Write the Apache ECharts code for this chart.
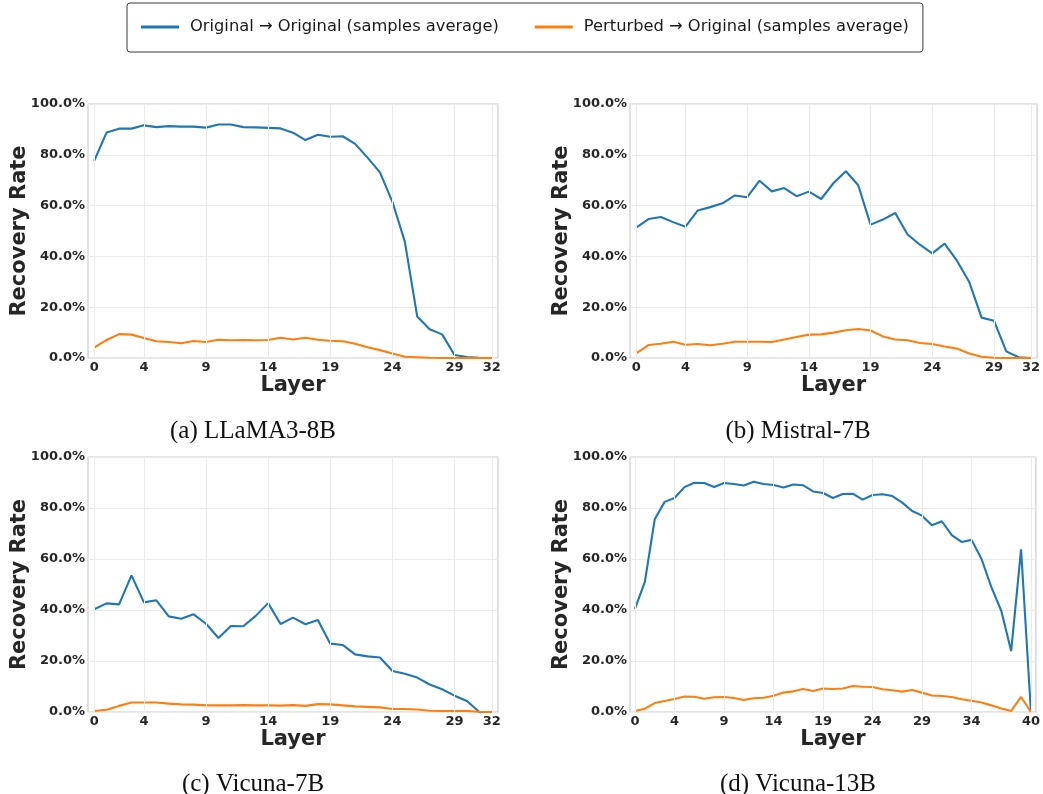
<!DOCTYPE html>
<html>
<head>
<meta charset="utf-8">
<title>Recovery Rate by Layer</title>
<script src="https://cdn.jsdelivr.net/npm/echarts@6/dist/echarts.min.js"></script>
<style>
  html, body { margin: 0; padding: 0; background: #ffffff; }
  #chart { width: 1043px; height: 794px; }
</style>
</head>
<body>
<div id="chart"></div>
<script>
// Recovery rate per layer, averaged over samples
const seriesNames = [
  'Original \u2192 Original (samples average)',
  'Perturbed \u2192 Original (samples average)'
];
const seriesColors = ['#1f77b4', '#ff7f0e'];

const modelCaptions = ['(a) LLaMA3-8B', '(b) Mistral-7B', '(c) Vicuna-7B', '(d) Vicuna-13B'];

const ticks32 = [0, 4, 9, 14, 19, 24, 29, 32];
const ticks40 = [0, 4, 9, 14, 19, 24, 29, 34, 40];

const llamaOrig = [0.776,0.888,0.903,0.903,0.916,0.909,0.913,0.911,0.911,0.907,0.919,0.919,0.909,0.908,0.906,0.904,0.887,0.858,0.879,0.871,0.873,0.843,0.789,0.731,0.615,0.458,0.163,0.113,0.093,0.012,0.004,0.001,0];
const llamaPert = [0.041,0.071,0.094,0.092,0.079,0.066,0.063,0.058,0.067,0.063,0.072,0.070,0.071,0.070,0.071,0.080,0.073,0.080,0.072,0.068,0.066,0.056,0.042,0.031,0.018,0.005,0.003,0.001,0,0,0,0,0];

const mistralOrig = [0.513,0.547,0.555,0.535,0.517,0.581,0.594,0.609,0.640,0.633,0.698,0.656,0.669,0.637,0.655,0.626,0.689,0.735,0.680,0.525,0.545,0.571,0.486,0.446,0.412,0.450,0.383,0.299,0.159,0.147,0.026,0.003,0];
const mistralPert = [0.018,0.051,0.056,0.064,0.052,0.055,0.050,0.056,0.064,0.064,0.064,0.063,0.073,0.083,0.092,0.093,0.100,0.109,0.114,0.108,0.085,0.073,0.070,0.059,0.055,0.045,0.037,0.018,0.005,0.001,0,0,0];

const vicuna7Orig = [0.403,0.426,0.422,0.536,0.430,0.438,0.375,0.366,0.383,0.346,0.290,0.337,0.336,0.377,0.427,0.345,0.370,0.344,0.361,0.268,0.263,0.226,0.218,0.214,0.161,0.150,0.135,0.108,0.089,0.064,0.043,0,0];
const vicuna7Pert = [0.004,0.009,0.024,0.037,0.037,0.037,0.033,0.030,0.029,0.026,0.026,0.026,0.027,0.026,0.026,0.025,0.027,0.024,0.031,0.030,0.026,0.022,0.020,0.018,0.012,0.012,0.010,0.005,0.004,0.004,0.004,0.001,0];

const vicuna13Orig = [0.404,0.510,0.756,0.824,0.839,0.882,0.899,0.898,0.882,0.898,0.894,0.888,0.903,0.894,0.890,0.880,0.892,0.889,0.865,0.859,0.839,0.855,0.856,0.833,0.851,0.854,0.847,0.821,0.788,0.770,0.732,0.748,0.694,0.667,0.675,0.601,0.490,0.397,0.239,0.638,0];
const vicuna13Pert = [0.004,0.013,0.035,0.043,0.051,0.061,0.060,0.052,0.058,0.059,0.055,0.047,0.054,0.056,0.064,0.076,0.081,0.090,0.082,0.092,0.090,0.092,0.102,0.099,0.098,0.089,0.085,0.080,0.086,0.076,0.065,0.063,0.059,0.050,0.044,0.037,0.026,0.014,0.004,0.059,0];

const panels = [
  { orig: llamaOrig,    pert: llamaPert,    ticks: ticks32 },
  { orig: mistralOrig,  pert: mistralPert,  ticks: ticks32 },
  { orig: vicuna7Orig,  pert: vicuna7Pert,  ticks: ticks32 },
  { orig: vicuna13Orig, pert: vicuna13Pert, ticks: ticks40 }
];

// panel boxes in a 2x2 layout
const boxes = [
  { left: 88,  top: 104, width: 410, height: 254 },
  { left: 630, top: 104, width: 409, height: 254 },
  { left: 88,  top: 457, width: 410, height: 255 },
  { left: 630, top: 457, width: 408, height: 255 }
];
const captionPos = [[253, 431], [798, 431], [253, 784], [798, 784]];

const FONT = '"DejaVu Sans", sans-serif';
const TEXT = '#262626';
const GRIDLINE = '#ebebeb';
const SPINE = '#cccccc';

const toPairs = arr => arr.map((v, i) => [i, v]);

const grids = [], xAxes = [], yAxes = [], series = [];
panels.forEach((p, k) => {
  const b = boxes[k];
  const last = p.ticks[p.ticks.length - 1];
  grids.push({
    left: b.left, top: b.top, width: b.width, height: b.height,
    show: true, borderColor: SPINE, borderWidth: 1.2, backgroundColor: '#ffffff',
    containLabel: false
  });
  xAxes.push({
    type: 'value', gridIndex: k, min: -0.5, max: last + 0.5,
    name: 'Layer', nameLocation: 'middle', nameGap: 13,
    nameTextStyle: { fontFamily: FONT, fontSize: 21, fontWeight: 'bold', color: TEXT },
    axisLine: { show: false }, axisTick: { show: false },
    splitLine: { show: false },
    axisLabel: {
      customValues: p.ticks, showMinLabel: true, showMaxLabel: true,
      fontFamily: FONT, fontSize: 13, fontWeight: 'bold', color: TEXT, margin: 3,
      formatter: v => String(Math.round(v))
    }
  });
  yAxes.push({
    type: 'value', gridIndex: k, min: 0, max: 1, interval: 0.2,
    name: 'Recovery Rate', nameLocation: 'middle', nameGap: 58, nameMoveOverlap: false,
    nameTextStyle: { fontFamily: FONT, fontSize: 21, fontWeight: 'bold', color: TEXT },
    axisLine: { show: false }, axisTick: { show: false },
    splitLine: { show: true, lineStyle: { color: GRIDLINE, width: 1 } },
    axisLabel: {
      fontFamily: FONT, fontSize: 13, fontWeight: 'bold', color: TEXT, margin: 3,
      formatter: v => (v * 100).toFixed(1) + '%'
    }
  });
  // vertical grid lines at the layer ticks
  series.push({
    type: 'line', xAxisIndex: k, yAxisIndex: k, data: [], silent: true, z: 1,
    markLine: {
      silent: true, symbol: 'none', animation: false,
      label: { show: false },
      lineStyle: { color: GRIDLINE, width: 1, type: 'solid' },
      emphasis: { disabled: true },
      data: p.ticks.map(t => ({ xAxis: t }))
    }
  });
  [p.orig, p.pert].forEach((vals, s) => {
    series.push({
      name: seriesNames[s], type: 'line', xAxisIndex: k, yAxisIndex: k,
      data: toPairs(vals), showSymbol: false, symbol: 'none', z: 3,
      lineStyle: { color: seriesColors[s], width: 2.1 },
      itemStyle: { color: seriesColors[s] },
      emphasis: { disabled: true }
    });
  });
});

const captions = modelCaptions.map((c, k) => ({
  type: 'text', x: captionPos[k][0], y: captionPos[k][1], silent: true,
  style: {
    text: c, font: '25px "Liberation Serif", serif', fill: '#111111',
    align: 'center', verticalAlign: 'middle',
    textAlign: 'center', textVerticalAlign: 'middle'
  }
}));

const chart = echarts.init(document.getElementById('chart'), null, { renderer: 'canvas' });
chart.setOption({
  animation: false,
  backgroundColor: '#ffffff',
  textStyle: { fontFamily: FONT },
  legend: {
    data: seriesNames.map((n, i) => ({ name: n, itemStyle: { color: seriesColors[i] } })),
    left: 127, top: 3,
    padding: [16, 14, 17, 14],
    itemWidth: 38, itemHeight: 3, itemGap: 36, icon: 'rect',
    borderColor: '#3a3a3a', borderWidth: 1, borderRadius: 3,
    backgroundColor: '#ffffff',
    selectedMode: false,
    textStyle: { fontFamily: FONT, fontSize: 16.3, color: '#1a1a1a', padding: [0, 0, 0, 6] }
  },
  grid: grids,
  xAxis: xAxes,
  yAxis: yAxes,
  series: series,
  graphic: captions
});
</script>
</body>
</html>
